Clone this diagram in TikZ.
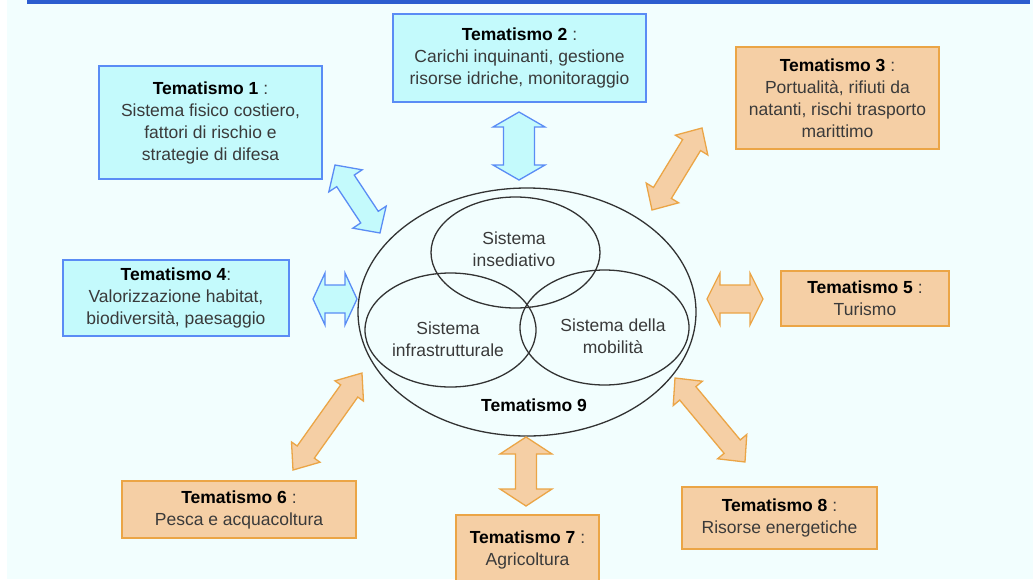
\documentclass[tikz,border=0pt]{standalone}
\usepackage{fontspec}
\setmainfont{Liberation Sans}
\usetikzlibrary{shapes.geometric}
\definecolor{bgc}{HTML}{F2FEFE}
\definecolor{barc}{HTML}{2C5DCF}
\definecolor{bfill}{HTML}{C4FAFC}
\definecolor{bline}{HTML}{5A8CF5}
\definecolor{ofill}{HTML}{F5CFA5}
\definecolor{oline}{HTML}{EBA546}
\definecolor{txt}{HTML}{3A3A3A}
\definecolor{elc}{HTML}{333333}
\newcommand{\tm}[1]{\textcolor{black}{\textbf{#1}}}
\newcommand{\fs}{\fontsize{17.5}{22}\selectfont}
% block double arrow: [style]{x1}{y1}{x2}{y2}{head length}{head width}{shaft width}
\newcommand{\barrow}[8][]{%
  \pgfmathsetmacro\BAang{atan2(-(#5-#3),#4-#2)}%
  \pgfmathsetmacro\BAlen{veclen(#4-#2,#5-#3)}%
  \pgfmathsetmacro\BAe{\BAlen-#6}%
  \pgfmathsetmacro\BAhw{#7/2}%
  \pgfmathsetmacro\BAsw{#8/2}%
  \begin{scope}[shift={(#2,#3)},rotate=\BAang]
    \draw[#1] (0,0) -- (#6,\BAhw) -- (#6,\BAsw) -- (\BAe,\BAsw) -- (\BAe,\BAhw)
      -- (\BAlen,0) -- (\BAe,-\BAhw) -- (\BAe,-\BAsw) -- (#6,-\BAsw) -- (#6,-\BAhw) -- cycle;
  \end{scope}}
\begin{document}
\begin{tikzpicture}[x=1pt,y=-1pt,
  bbox/.style={draw=bline,fill=bfill,line width=1.3pt,align=center,inner sep=0pt,text=txt,font=\fs},
  obox/.style={draw=oline,fill=ofill,line width=1.3pt,align=center,inner sep=0pt,text=txt,font=\fs},
  barr/.style={draw=bline,fill=bfill,line width=1.3pt,line join=miter},
  oarr/.style={draw=oline,fill=ofill,line width=1.3pt,line join=miter},
  ell/.style={draw=elc,ellipse,line width=1.3pt,inner sep=0pt},
  etext/.style={align=center,text=txt,font=\fs,inner sep=0pt}]
\useasboundingbox (0,0) rectangle (1033,579);
\fill[white] (0,0) rectangle (1033,579);
\fill[bgc] (7,0) rectangle (1033,579);
\fill[barc] (27,0) rectangle (1030,4);

% boxes
\node[bbox,minimum width=223pt,minimum height=113pt] (t1) at (210.5,122.5)
  {\tm{Tematismo 1} :\\Sistema fisico costiero,\\fattori di rischio e\\strategie di difesa};
\node[bbox,minimum width=253pt,minimum height=88pt] (t2) at (519.5,58)
  {\tm{Tematismo 2} :\\Carichi inquinanti, gestione\\risorse idriche, monitoraggio};
\node[obox,minimum width=203pt,minimum height=102pt] (t3) at (837.5,98)
  {\tm{Tematismo 3} :\\Portualità, rifiuti da\\natanti, rischi trasporto\\marittimo};
\node[bbox,minimum width=226pt,minimum height=76pt] (t4) at (176,298)
  {\tm{Tematismo 4}:\\Valorizzazione habitat,\\biodiversità, paesaggio};
\node[obox,minimum width=168pt,minimum height=55pt] (t5) at (865,298.5)
  {\tm{Tematismo 5} :\\Turismo};
\node[obox,minimum width=234pt,minimum height=57pt] (t6) at (239,509.5)
  {\tm{Tematismo 6} :\\Pesca e acquacoltura};
\node[obox,minimum width=143pt,minimum height=70pt] (t7) at (527.5,550)
  {\tm{Tematismo 7} :\\Agricoltura};
\node[obox,minimum width=195pt,minimum height=62pt] (t8) at (779.5,518)
  {\tm{Tematismo 8} :\\Risorse energetiche};

% ellipses
\node[ell,minimum width=338pt,minimum height=248pt] (e9) at (527,312) {};
\node[ell,minimum width=169pt,minimum height=111pt] (es) at (515.5,252.5) {};
\node[ell,minimum width=171pt,minimum height=114pt] (ei) at (450.5,330) {};
\node[ell,minimum width=169pt,minimum height=115pt] (em) at (604.5,327.5) {};
\node[etext] (ls) at (514,249) {Sistema\\insediativo};
\node[etext] (li) at (448,339) {Sistema\\infrastrutturale};
\node[etext] (lm) at (613,336.5) {Sistema della\\mobilità};
\node[etext] (l9) at (534,405) {\tm{Tematismo 9}};

% arrows
\barrow[barr]{335}{165}{380}{233}{19}{40}{21}
\barrow[barr]{519}{112}{519}{180}{15}{52}{31}
\barrow[oarr]{652}{210}{702}{128}{20}{38}{21}
\barrow[barr]{313}{299}{357}{299}{12}{52}{28}
\barrow[oarr]{707}{299}{763}{299}{13}{52}{28}
\barrow[oarr]{293}{470}{362}{373}{22}{35}{21}
\barrow[oarr]{526}{437}{526}{506}{17}{52}{21}
\barrow[oarr]{675}{378}{745}{462}{20}{38}{21}
\end{tikzpicture}
\end{document}
